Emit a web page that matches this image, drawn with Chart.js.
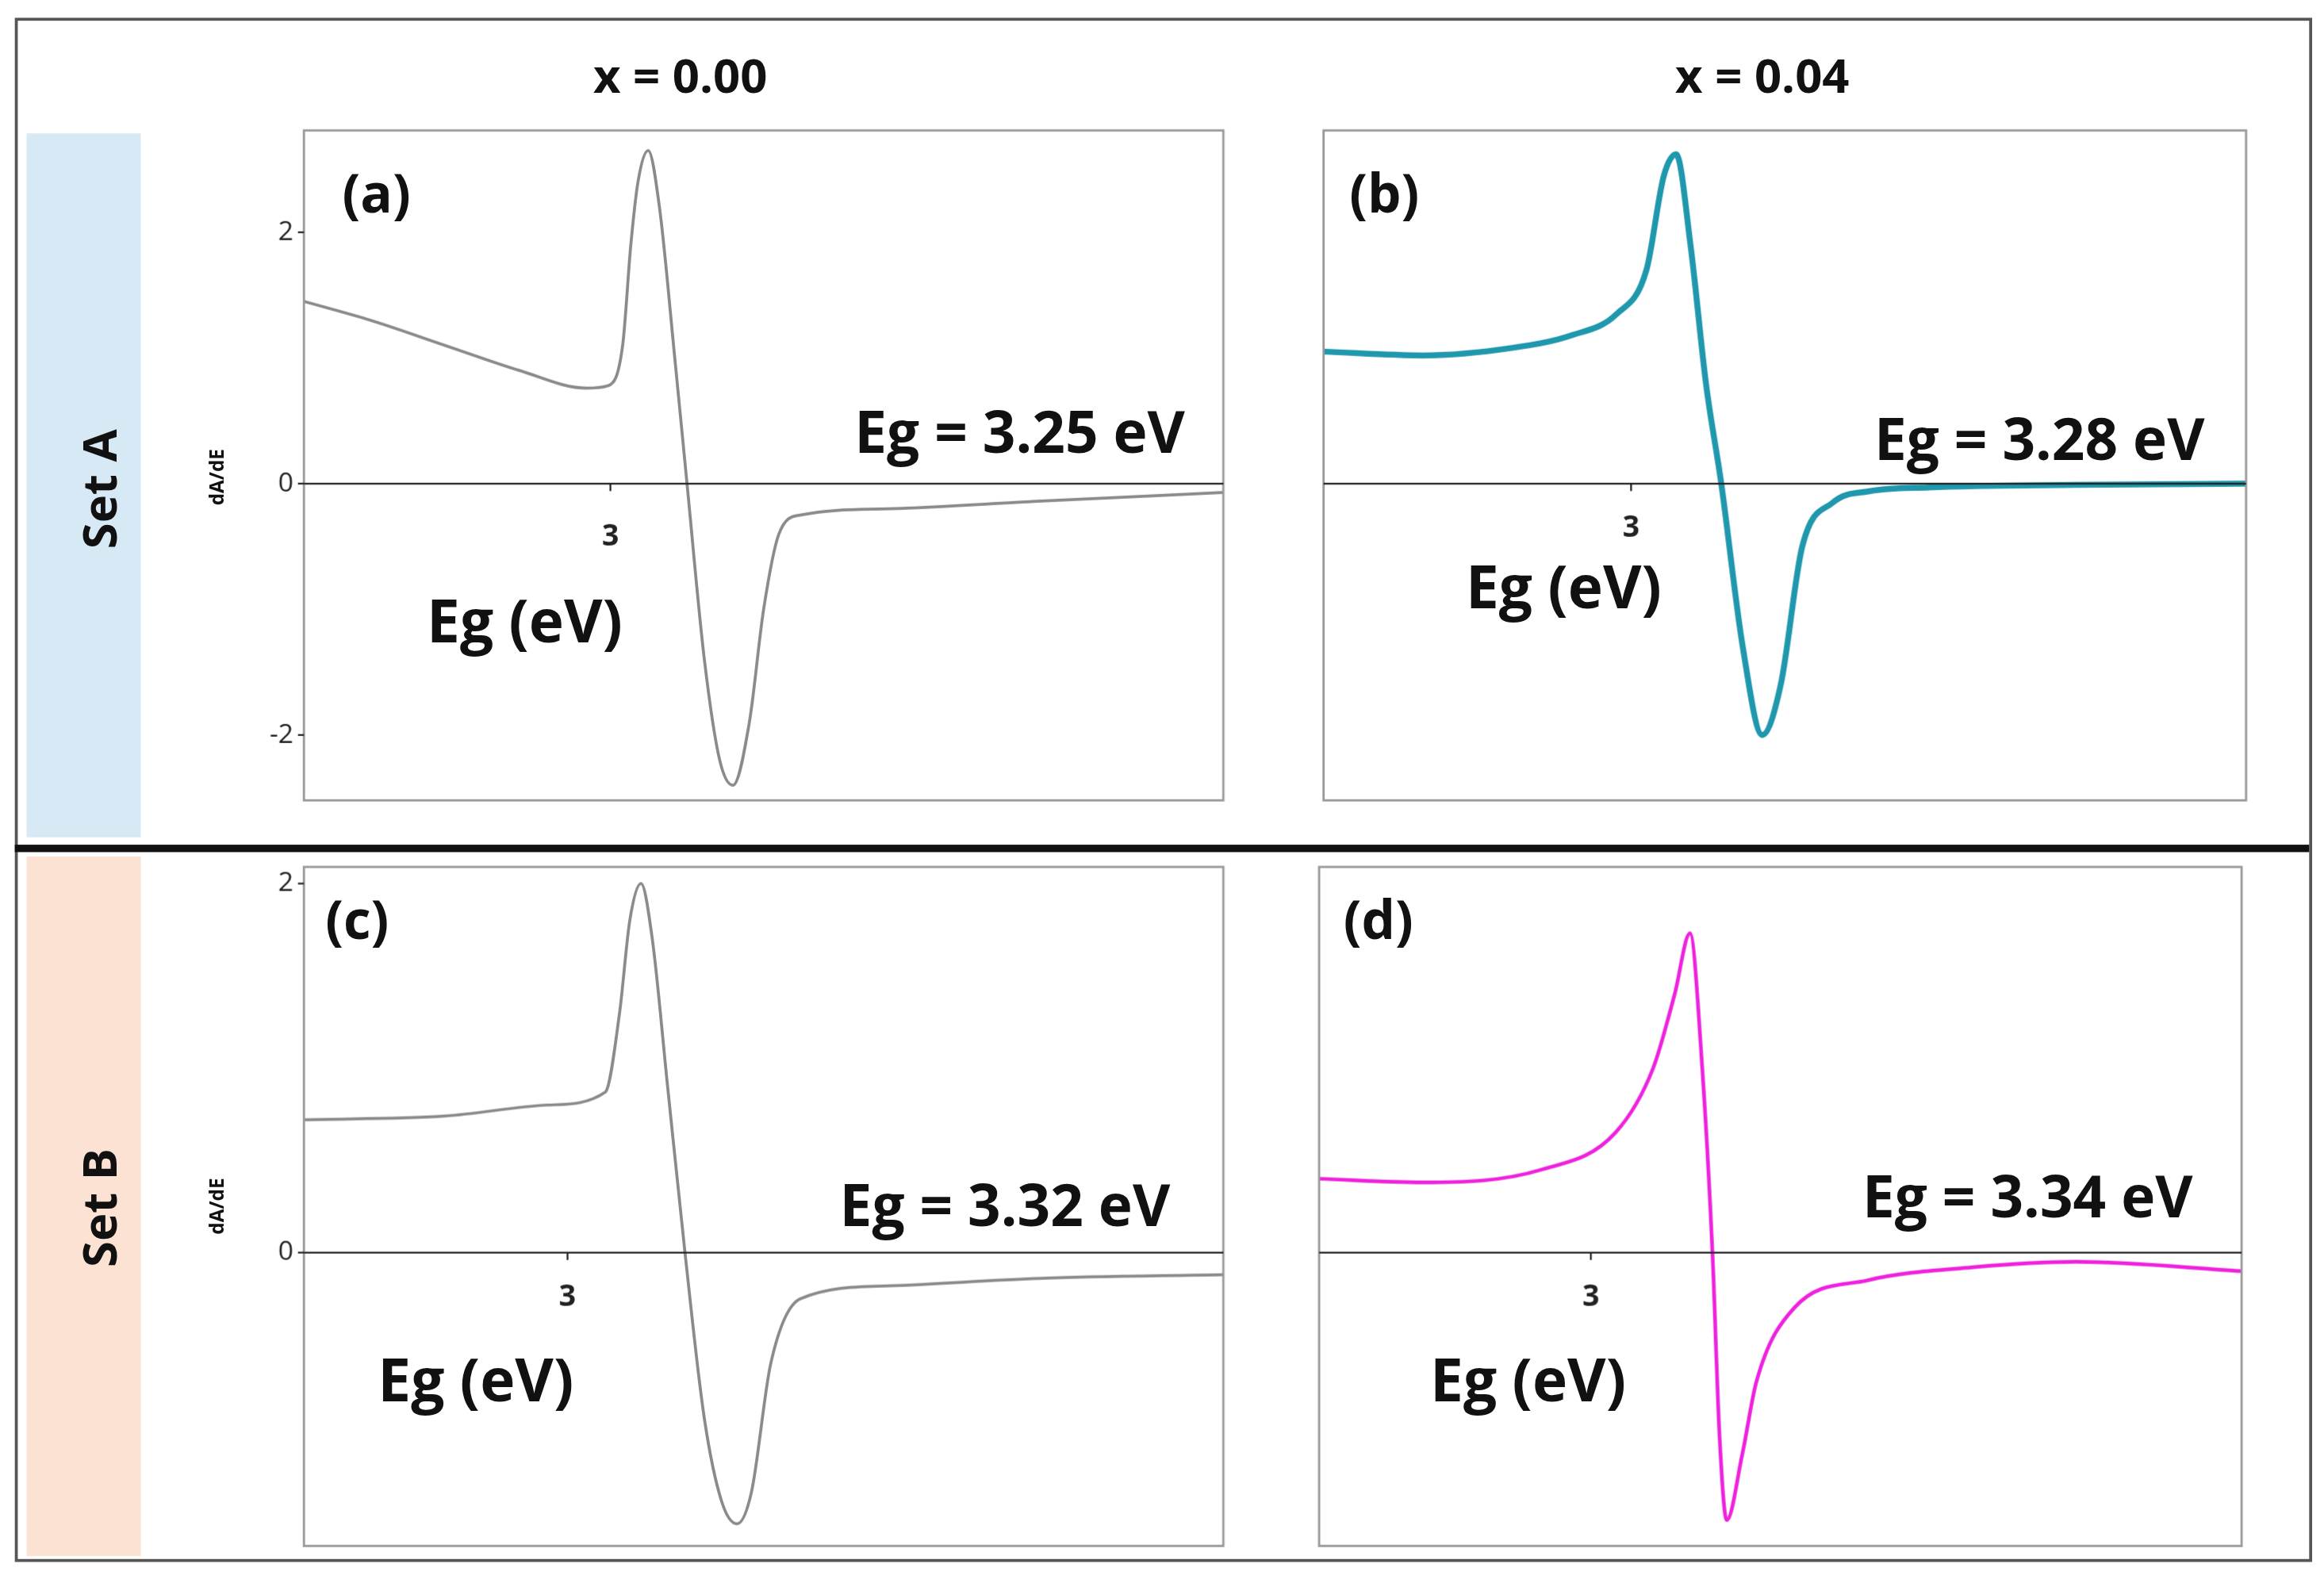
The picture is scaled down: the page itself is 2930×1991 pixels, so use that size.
<!DOCTYPE html>
<html><head><meta charset="utf-8">
<script src="https://cdn.jsdelivr.net/npm/chart.js@4/dist/chart.umd.min.js"></script>
<style>
html,body{margin:0;padding:0;background:#fff;overflow:hidden}
#root{position:absolute;left:0;top:0;width:1568px;height:1066px;transform-origin:0 0;font-family:"Open Sans",Lato,sans-serif}
.a{position:absolute}
.t{position:absolute;transform:translate(-50%,-50%);white-space:nowrap;font-weight:bold;color:#111}
.cw{position:absolute}
</style></head><body>
<div id="root">
 <div class="a" style="left:10px;top:12px;width:1546px;height:1038px;border:2px solid #555"></div>
 <div class="a" style="left:18px;top:90px;width:77px;height:475px;background:#d8e9f6"></div>
 <div class="a" style="left:18px;top:578px;width:77px;height:472px;background:#fbe2d2"></div>
 <div class="a" style="left:10px;top:570px;width:1548px;height:5px;background:#111"></div>
 <div class="t" style="left:459px;top:50px;font-size:32px">x = 0.00</div>
 <div class="t" style="left:1189px;top:50px;font-size:32px">x = 0.04</div>
 <div class="t" style="left:66px;top:330px;font-size:32px;transform:translate(-50%,-50%) rotate(-90deg)">Set A</div>
 <div class="t" style="left:66px;top:815px;font-size:32px;transform:translate(-50%,-50%) rotate(-90deg)">Set B</div>
</div>
<script>
const S = 2930/1568;
document.getElementById('root').style.transform='scale('+S+')';

const xA=[2.700,2.765,2.838,2.911,2.976,2.998,3.012,3.020,3.027,3.037,3.048,3.063,3.075,3.092,3.107,3.120,3.136,3.150,3.165,3.186,3.274,3.419,3.600];
const yA=[1.45,1.3,1.1,0.9,0.76,0.78,1.1,1.9,2.4,2.65,2.2,1.0,0.0,-1.4,-2.2,-2.4,-1.9,-1.0,-0.4,-0.25,-0.2,-0.14,-0.07];
const xB=[2.700,2.797,2.884,2.942,2.986,3.015,3.032,3.044,3.058,3.073,3.088,3.109,3.128,3.146,3.167,3.197,3.233,3.291,3.436,3.603];
const yB=[1.05,1.02,1.08,1.18,1.35,1.7,2.45,2.62,1.9,0.8,0.0,-1.3,-2.0,-1.6,-0.5,-0.15,-0.06,-0.03,-0.01,0.0];
const xC=[2.742,2.880,2.982,3.037,3.051,3.061,3.072,3.083,3.098,3.115,3.134,3.151,3.166,3.180,3.199,3.228,3.316,3.461,3.642];
const yC=[0.72,0.74,0.8,0.87,1.3,1.8,2.0,1.7,0.9,0.0,-0.9,-1.35,-1.47,-1.3,-0.6,-0.25,-0.18,-0.14,-0.12];
const xD=[2.734,2.836,2.952,3.024,3.061,3.082,3.097,3.109,3.119,3.126,3.133,3.148,3.162,3.199,3.271,3.373,3.475,3.637];
const yD=[0.40,0.38,0.45,0.65,1.0,1.4,1.73,1.0,0.0,-1.0,-1.45,-1.1,-0.7,-0.3,-0.15,-0.08,-0.05,-0.1];
const xTicks=[3];
const yTicks=[-2,0,2];

const panels=[
 {id:'a',x:xA,y:yA,col:'#8a8a8a',w:2,left:205,top:88,wd:620,ht:452,xmin:2.7,xmax:3.6,ymin:-2.52,ymax:2.81,ylab:true,lab:'(a)',labP:[254,130],eg:'Eg = 3.25 eV',egP:[688,290],egl:[354,418],tick3dy:36},
 {id:'b',x:xB,y:yB,col:'#1f97ad',w:4,left:893,top:88,wd:622,ht:452,xmin:2.7,xmax:3.6,ymin:-2.52,ymax:2.81,ylab:false,lab:'(b)',labP:[934,130],eg:'Eg = 3.28 eV',egP:[1376,295],egl:[1055,395],tick3dy:30},
 {id:'c',x:xC,y:yC,col:'#8a8a8a',w:2,left:205,top:585,wd:620,ht:458,xmin:2.742,xmax:3.642,ymin:-1.59,ymax:2.09,ylab:true,lab:'(c)',labP:[241,620],eg:'Eg = 3.32 eV',egP:[678,812],egl:[321,930],tick3dy:30},
 {id:'d',x:xD,y:yD,col:'#ee22dd',w:2.5,left:890,top:585,wd:622,ht:458,xmin:2.734,xmax:3.637,ymin:-1.59,ymax:2.09,ylab:false,lab:'(d)',labP:[930,620],eg:'Eg = 3.34 eV',egP:[1368,806],egl:[1031,930],tick3dy:30}
];
const root=document.getElementById('root');
function txt(s,x,y,fs,extra){const d=document.createElement('div');d.className='t';d.textContent=s;d.style.left=x+'px';d.style.top=y+'px';d.style.fontSize=fs+'px';if(extra)d.style.cssText+=extra;root.appendChild(d);}

const boxPlugin={id:'box',afterDatasetsDraw(ch,a,o){const c=ch.ctx,ca=ch.chartArea;c.save();
 c.strokeStyle='#999';c.lineWidth=1.5;c.strokeRect(ca.left,ca.top,ca.right-ca.left,ca.bottom-ca.top);
 const ys=ch.scales.y,xs=ch.scales.x;const y0=ys.getPixelForValue(0);
 c.strokeStyle='#222';c.lineWidth=1.2;c.beginPath();c.moveTo(ca.left,y0);c.lineTo(ca.right,y0);c.stroke();
 c.fillStyle='#222';c.font='bold 20px "Open Sans"';c.textAlign='center';c.textBaseline='middle';
 xTicks.forEach(t=>{const px=xs.getPixelForValue(t);c.beginPath();c.moveTo(px,y0);c.lineTo(px,y0+5);c.stroke();c.fillText(String(t),px,y0+o.dy);});
 if(o.ylab){c.textAlign='right';c.font='18px "Open Sans"';
  yTicks.filter(v=>v>=ys.min&&v<=ys.max).forEach(v=>{const py=ys.getPixelForValue(v);
   c.beginPath();c.moveTo(ca.left,py);c.lineTo(ca.left-4,py);c.stroke();c.fillText(String(v),ca.left-7,py);});}
 c.restore();}};

panels.forEach(p=>{
 const LM=p.ylab?50:2;
 const w=document.createElement('div');w.className='cw';
 w.style.left=(p.left-LM)+'px';w.style.top=(p.top-2)+'px';w.style.width=(p.wd+LM+2)+'px';w.style.height=(p.ht+4)+'px';
 const cv=document.createElement('canvas');w.appendChild(cv);root.appendChild(w);
 new Chart(cv,{type:'line',
  data:{datasets:[{data:p.x.map((v,i)=>({x:v,y:p.y[i]})),borderColor:p.col,borderWidth:p.w,pointRadius:0,cubicInterpolationMode:'monotone'}]},
  options:{responsive:true,maintainAspectRatio:false,animation:false,devicePixelRatio:S*(window.devicePixelRatio||1),
   layout:{padding:{top:2,right:2,bottom:2,left:LM}},
   plugins:{legend:{display:false},tooltip:{enabled:false},box:{dy:p.tick3dy,ylab:p.ylab}},
   scales:{
    x:{type:'linear',min:p.xmin,max:p.xmax,display:false},
    y:{type:'linear',min:p.ymin,max:p.ymax,display:false}
   }},
  plugins:[boxPlugin]});
 txt(p.lab,p.labP[0],p.labP[1],36);
 txt(p.eg,p.egP[0],p.egP[1],39);
 txt('Eg (eV)',p.egl[0],p.egl[1],40);
 if(p.ylab) txt('dA/dE',146,(p.top+p.ht/2)+(p.id=='a'?8:0),13,'transform:translate(-50%,-50%) rotate(-90deg)');
});
</script>
</body></html>
